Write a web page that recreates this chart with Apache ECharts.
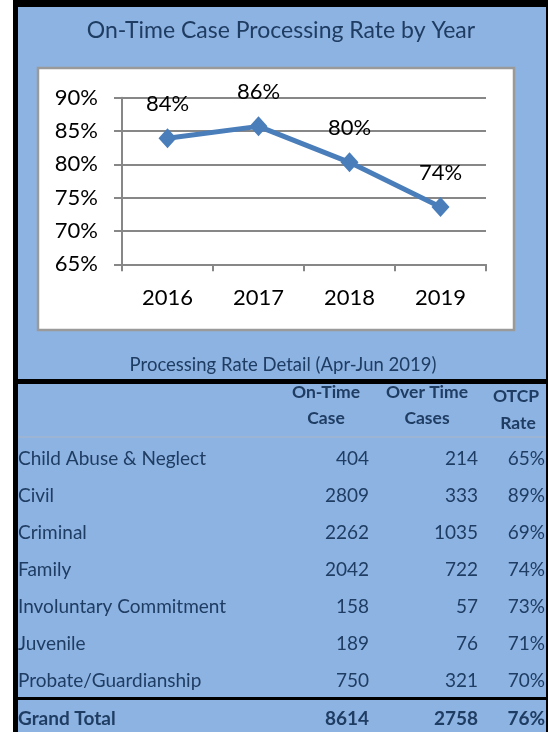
<!DOCTYPE html>
<html>
<head>
<meta charset="utf-8">
<script src="https://cdn.jsdelivr.net/npm/echarts@6/dist/echarts.min.js"></script>
<style>
  html, body { margin: 0; padding: 0; background: #fff; }
  #main { width: 548px; height: 732px; }
</style>
</head>
<body>
<div id="main"></div>
<script>
// chart data
const years = ['2016', '2017', '2018', '2019'];
const rates = [83.9, 85.7, 80.3, 73.6];

// table data (Apr-Jun 2019)
const caseTypes = ['Child Abuse & Neglect', 'Civil', 'Criminal', 'Family',
  'Involuntary Commitment', 'Juvenile', 'Probate/Guardianship'];
const onTimeCases = [404, 2809, 2262, 2042, 158, 189, 750];
const overTimeCases = [214, 333, 1035, 722, 57, 76, 321];
const otcpRates = ['65%', '89%', '69%', '74%', '73%', '71%', '70%'];
const grandTotal = ['Grand Total', 8614, 2758, '76%'];

const FONT = 'Lato, "Noto Sans", sans-serif';
const NAVY = '#1f3c62';
const BLUE_BG = '#8db3e2';

const chart = echarts.init(document.getElementById('main'));

// table text
var tableTexts = [];
function txt(x, y, s, align, bold, size) {
  tableTexts.push({
    type: 'text', x: x, y: y, z: 10,
    style: {
      text: String(s), fill: NAVY, font: (bold ? 'bold ' : '') + (size || 19) + 'px ' + FONT,
      textAlign: align, textVerticalAlign: 'middle'
    }
  });
}
// header
txt(326, 392, 'On-Time', 'center', true, 17.5);
txt(326, 418, 'Case', 'center', true, 17.5);
txt(427, 392, 'Over Time', 'center', true, 17.5);
txt(427, 418, 'Cases', 'center', true, 17.5);
txt(516, 396, 'OTCP', 'center', true, 17.5);
txt(518, 423, 'Rate', 'center', true, 17.5);
for (var i = 0; i < caseTypes.length; i++) {
  var y = 459 + i * 37;
  txt(18, y, caseTypes[i], 'left');
  txt(369, y, onTimeCases[i], 'right');
  txt(478, y, overTimeCases[i], 'right');
  txt(545, y, otcpRates[i], 'right');
}
txt(18, 719, grandTotal[0], 'left', true);
txt(369, 719, grandTotal[1], 'right', true);
txt(478, 719, grandTotal[2], 'right', true);
txt(545, 719, grandTotal[3], 'right', true);

const option = {
  animation: false,
  textStyle: { fontFamily: FONT },
  graphic: [
    // frame
    { type: 'rect', shape: { x: 13, y: 0, width: 535, height: 732 }, style: { fill: '#000' }, z: -10 },
    { type: 'rect', shape: { x: 18, y: 7, width: 528, height: 372 }, style: { fill: BLUE_BG }, z: -9 },
    { type: 'rect', shape: { x: 18, y: 384, width: 528, height: 313 }, style: { fill: BLUE_BG }, z: -9 },
    { type: 'rect', shape: { x: 18, y: 700, width: 528, height: 32 }, style: { fill: BLUE_BG }, z: -9 },
    // white chart box
    { type: 'rect', shape: { x: 38, y: 68, width: 476, height: 262 },
      style: { fill: '#fff', stroke: '#9a9a9a', lineWidth: 2.5 }, z: -8 },
    // header divider
    { type: 'line', shape: { x1: 18, y1: 437, x2: 546, y2: 437 },
      style: { stroke: '#a3b6cf', lineWidth: 1.5 }, z: -7 },
    // titles
    { type: 'text', x: 281, y: 31, style: { text: 'On-Time Case Processing Rate by Year',
      fill: NAVY, font: '23px ' + FONT, textAlign: 'center', textVerticalAlign: 'middle' } },
    { type: 'text', x: 283, y: 365, style: { text: 'Processing Rate Detail (Apr-Jun 2019)',
      fill: NAVY, font: '18.5px ' + FONT, textAlign: 'center', textVerticalAlign: 'middle' } }
  ].concat(tableTexts),
  grid: { left: 122, right: 62, top: 97.7, bottom: 732 - 264.3 },
  xAxis: {
    type: 'category',
    data: years,
    boundaryGap: true,
    axisLine: { lineStyle: { color: '#878787', width: 2 } },
    axisTick: { show: true, length: 7, lineStyle: { color: '#878787', width: 2 } },
    axisLabel: { color: '#000', fontSize: 22, margin: 23, fontFamily: FONT }
  },
  yAxis: {
    type: 'value',
    min: 65, max: 90, interval: 5,
    axisLine: { show: true, lineStyle: { color: '#878787', width: 2 } },
    axisTick: { show: true, length: 8, lineStyle: { color: '#878787', width: 2 } },
    splitLine: { lineStyle: { color: '#878787', width: 2 } },
    axisLabel: { color: '#000', fontSize: 22, margin: 24, fontFamily: FONT, formatter: '{value}%' }
  },
  series: [{
    type: 'line',
    data: rates,
    color: '#4a7ebb',
    lineStyle: { width: 5, color: '#4a7ebb' },
    symbol: 'diamond',
    symbolSize: [18, 20],
    itemStyle: { color: '#4a7ebb' },
    label: {
      show: true, position: 'top', distance: 13,
      color: '#000', fontSize: 22, fontFamily: FONT,
      formatter: function (p) { return Math.round(p.value) + '%'; }
    }
  }]
};
chart.setOption(option);
</script>
</body>
</html>
